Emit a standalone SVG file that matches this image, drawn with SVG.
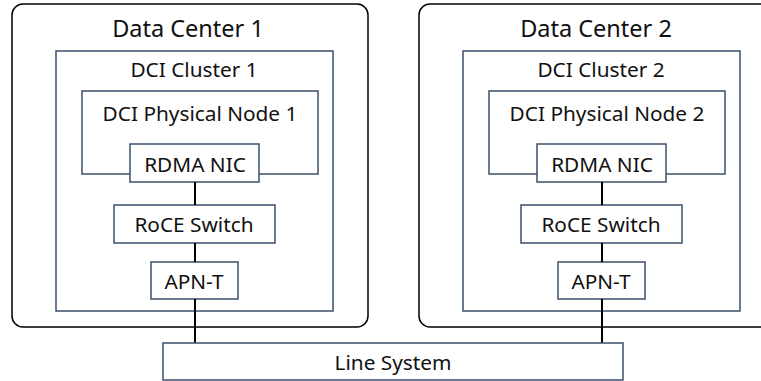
<svg xmlns="http://www.w3.org/2000/svg" width="761" height="381" viewBox="0 0 761 381">
<style>
.dc{fill:#fff;stroke:#000;stroke-width:1.5}
.box{fill:#fff;stroke:#3b4f6b;stroke-width:1.5}
.t{font-family:"Noto Sans","Open Sans",sans-serif;fill:#111;text-anchor:middle}
.big{font-size:23.5px}
.mid{font-size:20.8px}
.conn{stroke:#000;stroke-width:2;fill:none}
</style>
<rect width="761" height="381" fill="#fff"/>
<g id="dc1">
<rect class="dc" x="12" y="4" width="356" height="323" rx="11"/>
<text class="t big" x="188" y="37">Data Center 1</text>
</g>
<g id="dc2">
<rect class="dc" x="419" y="4" width="356" height="323" rx="11"/>
<text class="t big" x="596" y="37">Data Center 2</text>
</g>
<g id="cluster1">
<rect class="box" x="56" y="51" width="277" height="260"/>
<text class="t mid" x="194" y="77">DCI Cluster 1</text>
</g>
<g id="cluster2">
<rect class="box" x="463" y="51" width="277" height="260"/>
<text class="t mid" x="601" y="77">DCI Cluster 2</text>
</g>
<g id="node1">
<rect class="box" x="82" y="91" width="236" height="83"/>
<text class="t mid" x="200" y="121">DCI Physical Node 1</text>
</g>
<g id="node2">
<rect class="box" x="489" y="91" width="236" height="83"/>
<text class="t mid" x="607" y="121">DCI Physical Node 2</text>
</g>
<g id="nic1">
<rect class="box" x="130" y="144" width="129" height="38"/>
<text class="t mid" x="195" y="172">RDMA NIC</text>
</g>
<g id="nic2">
<rect class="box" x="537" y="144" width="129" height="38"/>
<text class="t mid" x="602" y="172">RDMA NIC</text>
</g>
<g id="roce1">
<rect class="box" x="114" y="205" width="161" height="38"/>
<text class="t mid" x="194" y="232">RoCE Switch</text>
</g>
<g id="roce2">
<rect class="box" x="521" y="205" width="161" height="38"/>
<text class="t mid" x="601" y="232">RoCE Switch</text>
</g>
<g id="apn1">
<rect class="box" x="151" y="262" width="87" height="37"/>
<text class="t mid" x="194" y="289">APN-T</text>
</g>
<g id="apn2">
<rect class="box" x="558" y="262" width="87" height="37"/>
<text class="t mid" x="601" y="289">APN-T</text>
</g>
<g id="connectors">
<line class="conn" x1="195" y1="182" x2="195" y2="205"/>
<line class="conn" x1="195" y1="243" x2="195" y2="262"/>
<line class="conn" x1="195" y1="299" x2="195" y2="343"/>
<line class="conn" x1="602" y1="182" x2="602" y2="205"/>
<line class="conn" x1="602" y1="243" x2="602" y2="262"/>
<line class="conn" x1="602" y1="299" x2="602" y2="343"/>
</g>
<g id="linesystem">
<rect class="box" x="163" y="343" width="460" height="37"/>
<text class="t mid" x="393" y="370">Line System</text>
</g>
</svg>
